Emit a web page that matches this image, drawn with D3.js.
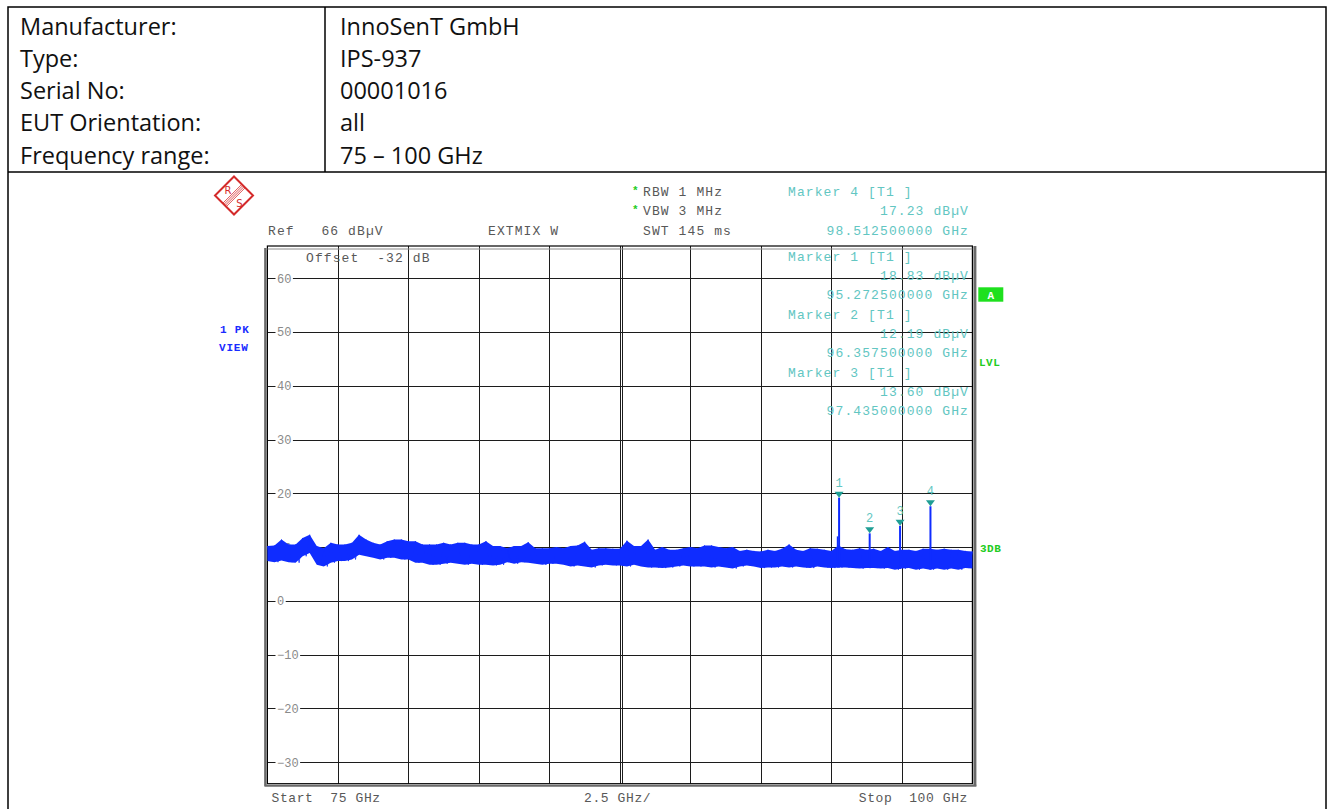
<!DOCTYPE html>
<html><head><meta charset="utf-8">
<script src="https://cdn.jsdelivr.net/npm/d3@7"></script>
<style>body{margin:0;background:#fff;} svg{display:block;}</style>
</head><body><svg id="c" width="1333" height="809"></svg>
<script>
// ---------- data ----------
const headerLabels = ["Manufacturer:", "Type:", "Serial No:", "EUT Orientation:", "Frequency range:"];
const headerValues = ["InnoSenT GmbH", "IPS-937", "00001016", "all", "75 – 100 GHz"];

const freqStart = 75, freqStop = 100, freqStep = 0.25;   // sweep, 2.5 GHz/div
const levelTop = 66, levelBottom = -34;                  // Ref 66 dBµV, 10 dB/div
const xGridFreqs = [77.5, 80, 82.5, 85, 87.5, 90, 92.5, 95, 97.5];
const yTickValues = [60, 50, 40, 30, 20, 10, 0, -10, -20, -30];

// peak trace envelope (upper / lower edge, dBµV) every 0.25 GHz
const traceTop = [
 10.2,10.3,11.4,10.5,10.5,11.7,12.3,10.2,9.8,10.8,10.5,10.5,10.8,12.3,11.4,10.8,10.5,
 11.1,11.4,11.4,11.1,11.1,10.5,10.5,10.5,10.8,10.5,10.8,10.8,10.5,10.5,11.1,10.2,10.2,
 9.8,10.2,10.2,10.9,9.8,9.8,9.8,10.0,9.8,10.2,10.3,11.0,9.5,9.8,9.8,9.7,9.7,
 11.2,10.2,10.2,11.4,9.5,10.0,9.5,9.5,9.8,10.0,9.8,10.3,10.3,10.0,9.8,10.0,
 9.3,9.5,9.3,9.2,9.5,9.3,9.7,10.5,9.5,9.3,9.8,9.7,9.5,9.3,10.3,9.6,9.5,9.8,
 9.5,9.7,9.3,10.0,9.3,9.5,9.5,9.3,9.7,9.7,9.5,9.7,9.5,9.5,9.3,9.2
];
const traceBottom = [
 7.4,7.2,7.5,7.2,7.1,8.3,8.9,6.7,6.4,7.1,7.4,7.4,7.7,8.6,8.3,8.0,7.7,
 8.0,8.0,7.7,7.7,7.1,7.1,6.7,6.7,6.9,7.1,6.9,6.7,6.9,6.7,6.7,6.6,6.7,
 7.2,6.9,7.2,7.1,6.9,6.7,6.9,6.9,6.7,6.4,6.6,6.4,6.2,6.6,6.7,6.6,6.6,
 6.4,6.7,6.4,6.2,6.2,6.1,6.2,6.4,6.6,6.4,6.4,6.4,6.2,6.4,6.2,6.0,
 6.4,6.6,6.4,6.1,6.2,6.2,6.4,6.2,6.4,6.2,6.1,6.4,6.2,6.1,6.2,6.2,6.1,6.0,
 6.1,6.1,6.0,6.1,5.8,6.0,6.1,5.8,6.0,5.8,6.0,5.8,6.0,5.8,6.1,6.0
];

// isolated spikes above the noise
const spikeFreqs = [95.22];
const spikeLevels = [12.0];

// markers
const markerIds = [1, 2, 3, 4];
const markerFreqs = [95.2725, 96.3575, 97.435, 98.5125];
const markerLevels = [18.83, 12.19, 13.60, 17.23];

// ---------- drawing ----------
const svg = d3.select("#c");
const W = 1333, H = 809;
const mono = "'Liberation Mono','DejaVu Sans Mono',monospace";
const grey = "#585858";
const teal = "#62c6c2";
const traceBlue = "#0f2cff";

// header table
const tbl = {left: 8, right: 1326, top: 7, bottom: 172, split: 325};
const rowBase = [35, 66.5, 99, 131, 163.5];
svg.append("rect").attr("x", tbl.left).attr("y", tbl.top).attr("width", tbl.right - tbl.left)
  .attr("height", H + 10).attr("fill", "none").attr("stroke", "#000").attr("stroke-width", 1.5);
svg.append("line").attr("x1", tbl.left).attr("x2", tbl.right).attr("y1", tbl.bottom).attr("y2", tbl.bottom)
  .attr("stroke", "#000").attr("stroke-width", 1.5);
svg.append("line").attr("x1", tbl.split).attr("x2", tbl.split).attr("y1", tbl.top).attr("y2", tbl.bottom)
  .attr("stroke", "#000").attr("stroke-width", 1.5);
const hdrFont = "'Open Sans','Noto Sans',sans-serif";
svg.append("g").selectAll("text").data(headerLabels).join("text")
  .attr("x", 20).attr("y", (d, i) => rowBase[i]).text(d => d)
  .attr("font-family", hdrFont).attr("font-size", 23.5).attr("fill", "#111");
svg.append("g").selectAll("text").data(headerValues).join("text")
  .attr("x", 340).attr("y", (d, i) => rowBase[i]).text(d => d)
  .attr("font-family", hdrFont).attr("font-size", 23.5).attr("fill", "#111");

// plot geometry
const px0 = 267.4, px1 = 972.4, py0 = 246, py1 = 783.7;
const x = d3.scaleLinear().domain([freqStart, freqStop]).range([px0, px1]);
const y = d3.scaleLinear().domain([levelBottom, levelTop]).range([py1, py0]);

// grid
const grid = svg.append("g");
grid.selectAll("line.h").data(yTickValues).join("line")
  .attr("x1", px0).attr("x2", px1)
  .attr("y1", d => Math.round(y(d)) + 0.5).attr("y2", d => Math.round(y(d)) + 0.5)
  .attr("stroke", "#1c1c1c").attr("stroke-width", 1);
grid.selectAll("line.v").data(xGridFreqs).join("line")
  .attr("x1", d => Math.round(x(d)) + 0.5).attr("x2", d => Math.round(x(d)) + 0.5)
  .attr("y1", py0).attr("y2", py1)
  .attr("stroke", "#1c1c1c").attr("stroke-width", 1);
grid.append("line").attr("x1", Math.round(x(87.5)) + 2.5).attr("x2", Math.round(x(87.5)) + 2.5)
  .attr("y1", py0).attr("y2", py1).attr("stroke", "#1c1c1c").attr("stroke-width", 1);

// y tick labels (inside frame, with white gap)
const yl = svg.append("g");
yTickValues.forEach(v => {
  const t = yl.append("text").attr("x", 277).attr("y", y(v) + 4.4).text(v < 0 ? "\u2212" + (-v) : v)
    .attr("font-family", mono).attr("font-size", 12).attr("fill", "#8a8a8a");
  const b = t.node().getBBox();
  yl.insert("rect", "text").attr("x", b.x - 1.5).attr("y", y(v) - 3).attr("width", b.width + 3).attr("height", 6).attr("fill", "#fff");
});
yl.selectAll("text").raise();

// frame
svg.append("rect").attr("x", px0).attr("y", py0).attr("width", px1 - px0).attr("height", py1 - py0)
  .attr("fill", "none").attr("stroke", "#000").attr("stroke-width", 1.2);
svg.append("line").attr("x1", px0 - 2).attr("x2", px0 - 2).attr("y1", py0 + 2).attr("y2", py1 + 2)
  .attr("stroke", "#6a6a6a").attr("stroke-width", 2.5);
svg.append("line").attr("x1", px1 + 2.5).attr("x2", px1 + 2.5).attr("y1", py0).attr("y2", py1 + 2)
  .attr("stroke", "#6a6a6a").attr("stroke-width", 3);
svg.append("line").attr("x1", px0 - 3).attr("x2", px1 + 4).attr("y1", py1 + 2).attr("y2", py1 + 2)
  .attr("stroke", "#6a6a6a").attr("stroke-width", 2);
svg.append("line").attr("x1", px0).attr("x2", px1).attr("y1", py0 + 3).attr("y2", py0 + 3)
  .attr("stroke", "#8a8a8a").attr("stroke-width", 1);

// trace: envelope band plus the sweep's up/down strokes along it
const traceData = traceTop.map((t, i) => ({f: freqStart + i * freqStep, hi: t, lo: traceBottom[i]}));
const area = d3.area().x(d => x(d.f)).y0(d => y(d.lo)).y1(d => y(d.hi));
svg.append("path").datum(traceData).attr("d", area).attr("fill", traceBlue);
const zig = [];
traceData.forEach((d, i) => {
  zig.push([x(d.f), y(d.hi)]);
  if (i < traceData.length - 1) zig.push([x(d.f + freqStep / 2), y(d.lo)]);
});
svg.append("path").attr("d", d3.line()(zig)).attr("fill", "none").attr("stroke", traceBlue)
  .attr("stroke-width", 0.8).attr("stroke-linejoin", "miter");

const loAt = f => d3.scaleLinear().domain(traceData.map(d => d.f)).range(traceData.map(d => d.lo))(f);
spikeFreqs.forEach((f, i) => {
  svg.append("line").attr("x1", x(f)).attr("x2", x(f)).attr("y1", y(loAt(f))).attr("y2", y(spikeLevels[i]))
    .attr("stroke", traceBlue).attr("stroke-width", 1.6);
});
markerFreqs.forEach((f, i) => {
  const xm = x(f), ym = y(markerLevels[i]);
  svg.append("line").attr("x1", xm).attr("x2", xm).attr("y1", y(loAt(f))).attr("y2", ym - 2)
    .attr("stroke", traceBlue).attr("stroke-width", 2);
  svg.append("path").attr("d", `M${xm - 4.5},${ym - 8}L${xm + 4.5},${ym - 8}L${xm},${ym - 2}Z`).attr("fill", "#1f9e94");
  svg.append("text").attr("x", xm).attr("y", ym - 13).attr("text-anchor", "middle").text(markerIds[i])
    .attr("font-family", mono).attr("font-size", 12).attr("fill", teal);
});

// annotation texts
function mtext(str, xx, yy, color, opts = {}) {
  return svg.append("text").attr("x", xx).attr("y", yy).text(str)
    .attr("font-family", mono).attr("font-size", opts.size || 13).attr("fill", color)
    .attr("letter-spacing", opts.ls != null ? opts.ls : 1.1)
    .attr("text-anchor", opts.anchor || "start").attr("font-weight", opts.weight || "normal")
    .attr("xml:space", "preserve").style("white-space", "pre");
}
mtext("Ref   66 dB\u00b5V", 268, 235, grey);
mtext("EXTMIX W", 488, 235, grey);
mtext("Offset  -32 dB", 306, 262, grey);
mtext("RBW 1 MHz", 643, 196, grey);
mtext("VBW 3 MHz", 643, 215.3, grey);
mtext("SWT 145 ms", 643, 234.6, grey);
mtext("*", 632, 194, "#22cc22", {size: 11, weight: "bold", ls: 0});
mtext("*", 632, 213.3, "#22cc22", {size: 11, weight: "bold", ls: 0});

// marker readouts (order as displayed: 4 on top, then 1, 2, 3)
const readoutOrder = [3, 0, 1, 2];
const readoutBase = [196, 260.7, 318.6, 376.5];
readoutOrder.forEach((mi, j) => {
  const b = readoutBase[j];
  mtext(`Marker ${markerIds[mi]} [T1 ]`, 788, b, teal);
  mtext(`${markerLevels[mi].toFixed(2)} dB\u00b5V`, 969, b + 19.3, teal, {anchor: "end"});
  mtext(`${markerFreqs[mi].toFixed(9)} GHz`, 969, b + 38.6, teal, {anchor: "end"});
});

// left / right status labels
mtext("1 PK", 220, 333.3, "#1a2cff", {size: 11, weight: "bold", ls: 0.8});
mtext("VIEW", 219, 350.7, "#1a2cff", {size: 11, weight: "bold", ls: 0.8});
svg.append("rect").attr("x", 978.3).attr("y", 287.3).attr("width", 25).attr("height", 14.4).attr("fill", "#1ee01e");
mtext("A", 990.8, 298.5, "#fff", {size: 11, weight: "bold", ls: 0, anchor: "middle"});
mtext("LVL", 979, 366, "#22cc22", {size: 11, weight: "bold", ls: 0.5});
mtext("3DB", 980, 552.3, "#22cc22", {size: 11, weight: "bold", ls: 0.5});

// bottom labels
mtext("Start  75 GHz", 271.5, 802, grey, {ls: 0.6});
mtext("2.5 GHz/", 584, 802, grey, {ls: 0.6});
mtext("Stop  100 GHz", 968, 802, grey, {ls: 0.6, anchor: "end"});

// R&S logo
const lg = svg.append("g").attr("transform", "translate(234,195.5)");
const red = "#d42a2a";
lg.append("path").attr("d", "M0,-19L19,0L0,19L-19,0Z").attr("fill", "none").attr("stroke", red).attr("stroke-width", 2);
[-2.4, -0.8, 0.8, 2.4].forEach(o => {
  const k = o / Math.SQRT2;
  lg.append("line").attr("x1", 9.5 + k).attr("y1", -9.5 + k).attr("x2", -9.5 + k).attr("y2", 9.5 + k)
    .attr("stroke", red).attr("stroke-width", 0.8);
});
lg.append("text").attr("x", -6).attr("y", -2).attr("text-anchor", "middle").text("R")
  .attr("font-family", "'DejaVu Sans',sans-serif").attr("font-size", 10).attr("fill", red);
lg.append("text").attr("x", 5.5).attr("y", 11).attr("text-anchor", "middle").text("S")
  .attr("font-family", "'DejaVu Sans',sans-serif").attr("font-size", 10).attr("fill", red);
</script></body></html>
